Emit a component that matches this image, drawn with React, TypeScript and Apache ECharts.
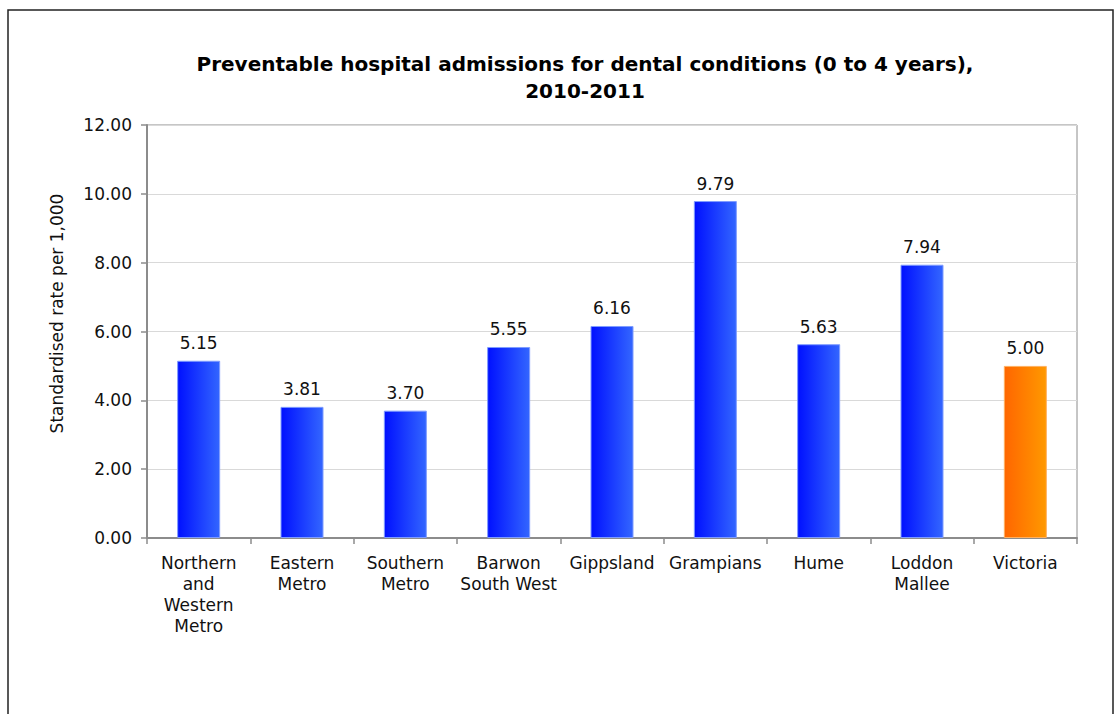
import React, { useEffect, useRef } from "react";
import * as echarts from "echarts";

const categories = [
  "Northern\nand\nWestern\nMetro",
  "Eastern\nMetro",
  "Southern\nMetro",
  "Barwon\nSouth West",
  "Gippsland",
  "Grampians",
  "Hume",
  "Loddon\nMallee",
  "Victoria",
];
const values = [5.15, 3.81, 3.7, 5.55, 6.16, 9.79, 5.63, 7.94, 5.0];
const highlight = [false, false, false, false, false, false, false, false, true];
const titleText = "Preventable hospital admissions for dental conditions (0 to 4 years),\n2010-2011";
const yAxisName = "Standardised rate per 1,000";

const FONT = "'DejaVu Sans', Verdana, sans-serif";

export default function App() {
  const ref = useRef<HTMLDivElement>(null);
  useEffect(() => {
    if (!ref.current) return;
    const chart = echarts.init(ref.current, undefined, { renderer: "svg" });
    const blue = new echarts.graphic.LinearGradient(0, 0, 1, 0, [
      { offset: 0, color: "#0010FF" },
      { offset: 1, color: "#3366FF" },
    ]);
    const orange = new echarts.graphic.LinearGradient(0, 0, 1, 0, [
      { offset: 0, color: "#FF6600" },
      { offset: 1, color: "#FF9900" },
    ]);
    chart.setOption({
      animation: false,
      backgroundColor: "#ffffff",
      title: {
        text: titleText,
        left: 580,
        top: 45,
        textAlign: "center",
        textStyle: {
          fontFamily: FONT,
          fontSize: 20,
          fontWeight: "bold",
          color: "#000",
          lineHeight: 27,
        },
      },
      graphic: [
        {
          type: "rect",
          shape: { x: 8, y: 10, width: 1105, height: 720 },
          style: { fill: "none", stroke: "#222", lineWidth: 1.5 },
          silent: true,
        },
      ],
      grid: {
        left: 147,
        top: 125,
        width: 930,
        height: 413,
        show: true,
        borderColor: "#8c8c8c",
        borderWidth: 1,
        containLabel: false,
      },
      xAxis: {
        type: "category",
        data: categories,
        axisLine: { show: true, lineStyle: { color: "#8c8c8c", width: 2 } },
        axisTick: { show: true, length: 6, lineStyle: { color: "#8c8c8c", width: 1.5 } },
        axisLabel: {
          interval: 0,
          fontFamily: FONT,
          fontSize: 17,
          color: "#111",
          lineHeight: 21,
          margin: 14,
        },
      },
      yAxis: {
        type: "value",
        min: 0,
        max: 12,
        interval: 2,
        name: yAxisName,
        nameLocation: "middle",
        nameGap: 82,
        nameTextStyle: { fontFamily: FONT, fontSize: 17, color: "#111", padding: [0, 0, 0, 36] },
        axisLine: { show: true, lineStyle: { color: "#8c8c8c", width: 2 } },
        axisTick: { show: true, length: 6, lineStyle: { color: "#8c8c8c", width: 1.5 } },
        axisLabel: {
          fontFamily: FONT,
          fontSize: 17,
          color: "#111",
          margin: 15,
          formatter: (v: number) => v.toFixed(2),
        },
        splitLine: { show: true, lineStyle: { color: "#d9d9d9", width: 1 } },
      },
      series: [
        {
          type: "bar",
          barWidth: 43,
          data: values.map((v, i) => ({
            value: v,
            itemStyle: {
              color: highlight[i] ? orange : blue,
              borderColor: highlight[i] ? "#FFB060" : "#7f9cff",
              borderWidth: 1,
            },
          })),
          label: {
            show: true,
            position: "top",
            distance: 9,
            fontFamily: FONT,
            fontSize: 17,
            color: "#111",
            formatter: (p: any) => Number(p.value).toFixed(2),
          },
        },
      ],
    });
    return () => chart.dispose();
  }, []);
  return (
    <div
      ref={ref}
      style={{ position: "fixed", left: 0, top: 0, width: 1115, height: 714, background: "#fff" }}
    />
  );
}
